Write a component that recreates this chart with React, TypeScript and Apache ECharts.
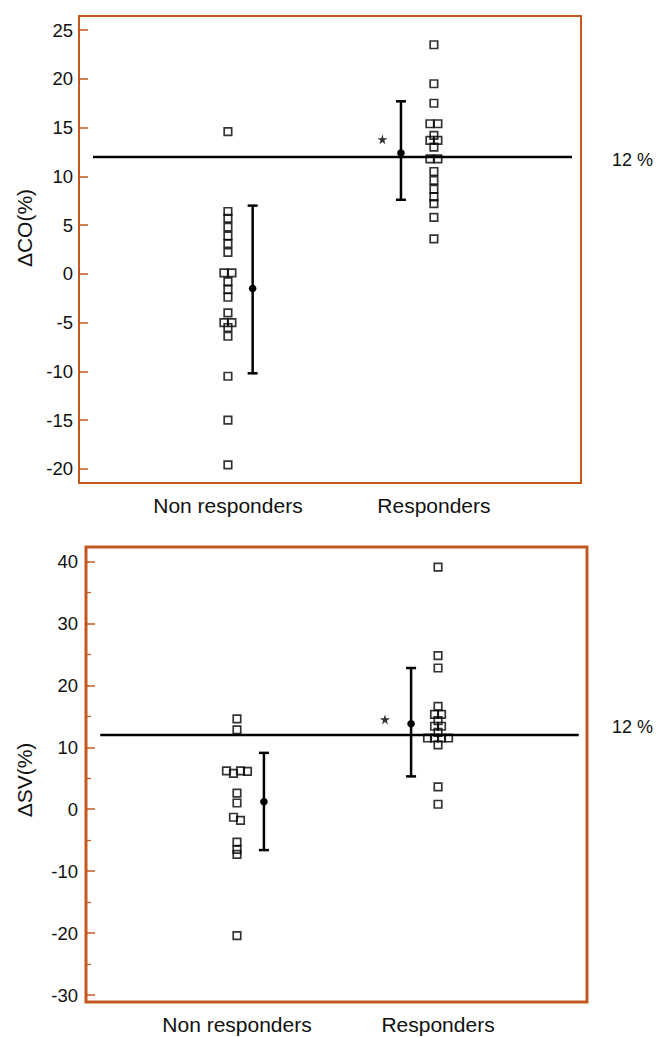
import React, { useEffect, useRef } from "react";
import * as echarts from "echarts";

// ---------- data ----------
const CATEGORIES = ["Non responders", "Responders"];
const THRESHOLD = 12;
const THRESHOLD_LABEL = "12 %";

// ΔCO (%) individual values
const CO_NR = [14.6, 6.4, 5.7, 4.8, 3.9, 3.1, 2.2, 0.1, 0.1, -0.8, -1.6, -2.4, -4.0, -5.0, -5.0, -5.5, -6.4, -10.5, -15.0, -19.6];
const CO_NR_SLOT = [0, 0, 0, 0, 0, 0, 0, -0.5, 0.5, 0, 0, 0, 0, -0.5, 0.5, 0, 0, 0, 0, 0];
const CO_R = [23.5, 19.5, 17.5, 15.4, 15.4, 14.2, 13.7, 13.7, 13.0, 11.8, 11.8, 10.5, 9.6, 8.7, 7.9, 7.2, 5.8, 3.6];
const CO_R_SLOT = [0, 0, 0, -0.5, 0.5, 0, -0.5, 0.5, 0, -0.5, 0.5, 0, 0, 0, 0, 0, 0, 0];
const CO_MEAN = [-1.5, 12.4];
const CO_LOW = [-10.2, 7.6];
const CO_HIGH = [7.0, 17.7];
const CO_STAR = 13.8;

// ΔSV (%) individual values
const SV_NR = [14.6, 12.8, 6.2, 5.8, 6.2, 6.1, 2.6, 1.0, -1.3, -1.8, -5.3, -6.5, -7.3, -20.4];
const SV_NR_SLOT = [0, 0, -1.5, -0.5, 0.5, 1.5, 0, 0, -0.5, 0.5, 0, 0, 0, 0];
const SV_R = [39.1, 24.8, 22.8, 16.6, 15.3, 15.3, 14.3, 13.4, 13.4, 12.4, 11.5, 11.5, 11.5, 11.5, 10.4, 3.6, 0.8];
const SV_R_SLOT = [0, 0, 0, 0, -0.5, 0.5, 0, -0.5, 0.5, 0, -1.5, -0.5, 0.5, 1.5, 0, 0, 0];
const SV_MEAN = [1.2, 13.8];
const SV_LOW = [-6.6, 5.3];
const SV_HIGH = [9.1, 22.8];
const SV_STAR = 14.5;

const CO_TICKS = [-20, -15, -10, -5, 0, 5, 10, 15, 20, 25];
const SV_TICKS = [-30, -20, -10, 0, 10, 20, 30, 40];
const SV_MINOR = [-25, -15, -5, 5, 15, 25, 35];

// ---------- styling ----------
const FRAME = "#c4581c";
const FONT = "Liberation Sans";

function errorBarRender(params: any, api: any) {
  const x = api.value(0);
  const lo = api.coord([x, api.value(1)]);
  const hi = api.coord([x, api.value(2)]);
  const m = api.coord([x, api.value(3)]);
  const cap = 5;
  const st = { stroke: "#000", lineWidth: 2.5 };
  return {
    type: "group",
    children: [
      { type: "line", shape: { x1: lo[0], y1: lo[1], x2: hi[0], y2: hi[1] }, style: st },
      { type: "line", shape: { x1: lo[0] - cap, y1: lo[1], x2: lo[0] + cap, y2: lo[1] }, style: st },
      { type: "line", shape: { x1: hi[0] - cap, y1: hi[1], x2: hi[0] + cap, y2: hi[1] }, style: st },
      { type: "circle", shape: { cx: m[0], cy: m[1], r: 3.8 }, style: { fill: "#000" } },
    ],
  };
}

const STAR = "path://M50,0 L61,35 L98,35 L68,57 L79,91 L50,70 L21,91 L32,57 L2,35 L39,35 Z";

export default function App() {
  const ref = useRef<HTMLDivElement>(null);
  useEffect(() => {
    if (!ref.current) return;
    const chart = echarts.init(ref.current, null, { renderer: "svg" });
    const dxTop = 8 / 206;
    const dxBot = 7 / 201;
    const sq = (vals: number[], slots: number[], cx: number, dx: number) =>
      vals.map((v, i) => [cx + slots[i] * dx, v]);
    const squareStyle = {
      symbol: "rect",
      symbolSize: 7.5,
      itemStyle: { color: "rgba(0,0,0,0)", borderColor: "#000", borderWidth: 1.7 },
    };
    const xAxisBase = (min: number, max: number, grid: number) => ({
      type: "value",
      gridIndex: grid,
      min,
      max,
      axisLine: { show: false },
      axisTick: { show: false },
      splitLine: { show: false },
      axisLabel: {
        customValues: [1, 2],
        formatter: (v: number) => CATEGORIES[Math.round(v) - 1],
        fontFamily: FONT,
        fontSize: 21,
        color: "#111",
        margin: 12,
      },
    });
    const option: any = {
      animation: false,
      backgroundColor: "#fff",
      grid: [
        { left: 79, top: 16, width: 502, height: 467, show: true, borderColor: FRAME, borderWidth: 2, backgroundColor: "transparent" },
        { left: 86, top: 547, width: 501, height: 455, show: true, borderColor: FRAME, borderWidth: 3, backgroundColor: "transparent" },
      ],
      xAxis: [xAxisBase(0.277, 2.714, 0), xAxisBase(0.249, 2.741, 1)],
      yAxis: [
        {
          type: "value", gridIndex: 0, min: -21.45, max: 26.45,
          axisLine: { show: false }, splitLine: { show: false },
          axisTick: { customValues: CO_TICKS, inside: true, length: 9, lineStyle: { color: FRAME, width: 1.5 } },
          axisLabel: { customValues: CO_TICKS, fontFamily: FONT, fontSize: 18.5, color: "#111", margin: 6 },
        },
        {
          type: "value", gridIndex: 1, min: -31.13, max: 42.34,
          axisLine: { show: false }, splitLine: { show: false },
          axisTick: { customValues: SV_TICKS, inside: true, length: 9, lineStyle: { color: FRAME, width: 1.5 } },
          axisLabel: { customValues: SV_TICKS, fontFamily: FONT, fontSize: 18.5, color: "#111", margin: 8 },
        },
        {
          type: "value", gridIndex: 1, min: -31.13, max: 42.34, position: "left",
          axisLine: { show: false }, splitLine: { show: false },
          axisTick: { customValues: SV_MINOR, inside: true, length: 5, lineStyle: { color: FRAME, width: 1.2 } },
          axisLabel: { show: false },
        },
      ],
      series: [
        // threshold lines
        {
          type: "line", xAxisIndex: 0, yAxisIndex: 0, symbol: "none",
          lineStyle: { color: "#000", width: 2.5 },
          data: [[0.345, THRESHOLD], [2.67, THRESHOLD]],
        },
        {
          type: "line", xAxisIndex: 1, yAxisIndex: 1, symbol: "none",
          lineStyle: { color: "#000", width: 2.5 },
          data: [[0.32, THRESHOLD], [2.70, THRESHOLD]],
        },
        // squares top
        { type: "scatter", xAxisIndex: 0, yAxisIndex: 0, ...squareStyle, data: sq(CO_NR, CO_NR_SLOT, 1, dxTop) },
        { type: "scatter", xAxisIndex: 0, yAxisIndex: 0, ...squareStyle, data: sq(CO_R, CO_R_SLOT, 2, dxTop) },
        // squares bottom
        { type: "scatter", xAxisIndex: 1, yAxisIndex: 1, ...squareStyle, data: sq(SV_NR, SV_NR_SLOT, 1, dxBot) },
        { type: "scatter", xAxisIndex: 1, yAxisIndex: 1, ...squareStyle, data: sq(SV_R, SV_R_SLOT, 2, dxBot) },
        // error bars
        {
          type: "custom", xAxisIndex: 0, yAxisIndex: 0, renderItem: errorBarRender,
          encode: { x: 0, y: [1, 2, 3] },
          data: [
            [1.12, CO_LOW[0], CO_HIGH[0], CO_MEAN[0]],
            [1.84, CO_LOW[1], CO_HIGH[1], CO_MEAN[1]],
          ],
        },
        {
          type: "custom", xAxisIndex: 1, yAxisIndex: 1, renderItem: errorBarRender,
          encode: { x: 0, y: [1, 2, 3] },
          data: [
            [1.134, SV_LOW[0], SV_HIGH[0], SV_MEAN[0]],
            [1.866, SV_LOW[1], SV_HIGH[1], SV_MEAN[1]],
          ],
        },
        // stars
        { type: "scatter", xAxisIndex: 0, yAxisIndex: 0, symbol: STAR, symbolSize: 10, itemStyle: { color: "#000" }, data: [[1.75, CO_STAR]] },
        { type: "scatter", xAxisIndex: 1, yAxisIndex: 1, symbol: STAR, symbolSize: 10, itemStyle: { color: "#000" }, data: [[1.736, SV_STAR]] },
      ],
      graphic: [
        { type: "text", x: 612, y: 160, style: { text: THRESHOLD_LABEL, font: `18px ${FONT}`, fill: "#111", verticalAlign: "middle" } },
        { type: "text", x: 612, y: 727, style: { text: THRESHOLD_LABEL, font: `18px ${FONT}`, fill: "#111", verticalAlign: "middle" } },
        { type: "text", x: 24, y: 228, rotation: Math.PI / 2, style: { text: "ΔCO(%)", font: `21px ${FONT}`, fill: "#111", align: "center", verticalAlign: "middle" } },
        { type: "text", x: 24, y: 780, rotation: Math.PI / 2, style: { text: "ΔSV(%)", font: `21px ${FONT}`, fill: "#111", align: "center", verticalAlign: "middle" } },
      ],
    };
    chart.setOption(option);
    return () => chart.dispose();
  }, []);
  return <div ref={ref} style={{ position: "absolute", left: 0, top: 0, width: 666, height: 1037 }} />;
}
